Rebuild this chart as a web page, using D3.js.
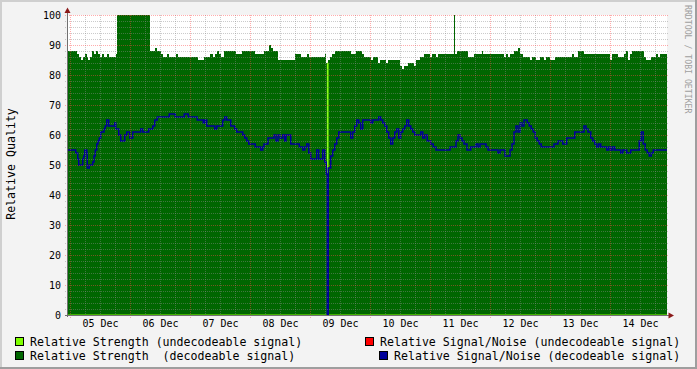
<!DOCTYPE html>
<html>
<head>
<meta charset="utf-8">
<script src="https://cdn.jsdelivr.net/npm/d3@7"></script>
<style>
  body { margin: 0; background: #f3f3f3; }
  text { font-family: "DejaVu Sans Mono", monospace; white-space: pre; }
</style>
</head>
<body>
<svg id="chart" width="697" height="369"></svg>
<script>
// hours counted from 05 Dec 00:00 (UTC), window runs -1.2 .. 238.8
const origin = Date.UTC(2011, 11, 5)
const windowHours = [-1.2, 238.8]
const yTicks = [0, 10, 20, 30, 40, 50, 60, 70, 80, 90, 100]

// step series: [hour, value] change points
const strengthDecodeable = [
  [-1.2, 88], [2.7, 87], [3.5, 86], [4.3, 85], [5.1, 86], [5.9, 87], [6.7, 86], [7.1, 85],
  [7.9, 86], [8.7, 88], [9.5, 87], [10.3, 88], [11.1, 87], [11.9, 86], [12.7, 87], [13.5, 86],
  [14.7, 87], [15.5, 86], [18.3, 87], [18.7, 100], [32.0, 88], [33.9, 89], [34.7, 88],
  [36.3, 87], [37.1, 86], [38.7, 87], [39.5, 86], [42.3, 87], [43.1, 86], [51.1, 85],
  [53.5, 86], [55.9, 87], [57.1, 86], [57.9, 87], [58.7, 88], [59.5, 87], [60.3, 86],
  [61.5, 88], [66.3, 87], [68.7, 88], [73.9, 87], [77.6, 88], [79.6, 90], [80.4, 89],
  [81.2, 88], [83.2, 85], [89.9, 87], [92.3, 86], [94.7, 87], [95.5, 86], [101.9, 87],
  [102.5, 84], [102.9, 0], [103.3, 85], [104.1, 86], [104.9, 87], [105.9, 88], [112.3, 87],
  [114.3, 88], [116.7, 87], [117.5, 86], [120.3, 85], [121.1, 86], [123.1, 84], [123.9, 85],
  [126.3, 84], [127.1, 85], [131.9, 83], [132.7, 82], [133.5, 83], [135.1, 84], [137.5, 83],
  [138.3, 85], [139.9, 86], [141.5, 87], [143.9, 86], [144.7, 87], [146.3, 86], [147.1, 87],
  [153.5, 100], [153.9, 87], [154.7, 88], [159.2, 86], [161.6, 87], [164.8, 88], [165.2, 87],
  [173.6, 86], [174.4, 87], [175.2, 86], [176.0, 87], [177.6, 88], [179.2, 89], [180.0, 87],
  [181.2, 86], [184.0, 85], [184.8, 86], [186.4, 85], [188.0, 86], [189.6, 85], [190.4, 86],
  [192.0, 85], [194.0, 86], [200.8, 87], [201.6, 86], [203.2, 88], [205.6, 87], [216.0, 85],
  [216.8, 87], [219.2, 86], [221.6, 87], [222.4, 88], [223.2, 85], [224.0, 87], [224.8, 88],
  [229.6, 86], [230.4, 85], [232.4, 86], [234.4, 87], [235.2, 86], [236.0, 87]
]
const strengthUndecodeable = [[-1.2, 0], [102.9, 84], [103.3, 0]]

const noiseDecodeable = [
  [-1.2, 55], [2.3, 54], [3.1, 52], [3.5, 50], [5.1, 52], [5.5, 53], [5.9, 55], [6.7, 54],
  [6.9, 49], [7.7, 50], [9.1, 51], [9.6, 53], [10.1, 55], [10.7, 57], [11.2, 58], [11.7, 59],
  [12.3, 61], [13.6, 62], [14.1, 63], [14.7, 65], [15.5, 63], [17.9, 64], [18.3, 62],
  [19.5, 60], [20.3, 58], [21.9, 60], [22.7, 61], [23.9, 59], [25.1, 61], [28.3, 62],
  [29.1, 61], [31.5, 62], [33.1, 63], [33.9, 65], [34.9, 66], [39.7, 67], [42.1, 66],
  [45.7, 67], [47.3, 66], [50.9, 65], [53.3, 64], [53.9, 65], [54.7, 63], [57.9, 62],
  [58.7, 63], [61.1, 65], [61.9, 66], [62.7, 65], [64.3, 63], [65.9, 62], [66.7, 61],
  [69.1, 60], [69.9, 59], [70.7, 58], [71.5, 57], [74.1, 56], [76.3, 55], [77.1, 56],
  [77.6, 57], [79.2, 59], [81.6, 60], [82.4, 58], [83.2, 60], [84.0, 59], [85.1, 60],
  [85.9, 58], [86.4, 60], [88.3, 57], [91.7, 56], [93.1, 55], [93.9, 56], [94.7, 57],
  [95.5, 54], [96.3, 52], [98.7, 55], [99.5, 52], [101.1, 55], [101.9, 51], [102.5, 47],
  [102.9, 0], [103.3, 49], [104.3, 53], [105.1, 55], [105.9, 57], [106.7, 59], [107.5, 61],
  [112.3, 59], [113.1, 61], [113.9, 63], [114.7, 65], [115.5, 64], [116.3, 62], [117.1, 65],
  [120.3, 64], [121.1, 65], [123.5, 66], [124.3, 65], [125.1, 64], [125.9, 63], [126.7, 61],
  [127.5, 59], [128.3, 57], [129.1, 59], [129.9, 61], [130.7, 62], [131.5, 59], [132.3, 61],
  [133.1, 62], [133.9, 63], [134.7, 65], [135.5, 63], [136.3, 62], [137.1, 61], [137.9, 60],
  [140.3, 61], [141.1, 59], [141.9, 60], [142.9, 58], [144.3, 57], [145.3, 56], [146.4, 55],
  [152.0, 56], [154.4, 58], [155.2, 60], [156.0, 59], [156.8, 58], [157.6, 57], [158.8, 55],
  [160.3, 56], [162.4, 57], [163.2, 56], [164.0, 57], [166.4, 56], [167.2, 55], [171.2, 54],
  [172.0, 55], [174.0, 53], [176.0, 55], [176.8, 57], [177.6, 61], [178.4, 63], [179.2, 61],
  [180.0, 64], [180.8, 63], [181.6, 65], [182.9, 64], [183.7, 63], [184.5, 62], [185.3, 61],
  [186.1, 59], [186.9, 58], [187.7, 57], [188.5, 56], [193.6, 57], [195.2, 58], [197.1, 57],
  [198.7, 59], [201.9, 61], [205.6, 63], [206.4, 62], [207.2, 61], [208.3, 59], [209.1, 58],
  [209.9, 57], [210.7, 56], [211.5, 57], [212.3, 56], [214.7, 55], [215.5, 56], [216.3, 55],
  [217.1, 56], [217.9, 55], [220.3, 54], [221.1, 55], [222.7, 54], [224.3, 55], [227.7, 58],
  [228.5, 61], [229.3, 57], [230.1, 55], [230.9, 54], [231.7, 53], [232.5, 54], [233.3, 55]
]
const noiseUndecodeable = []

const legendItems = [
  { label: 'Relative Strength (undecodeable signal)', color: '#7fff00' },
  { label: 'Relative Signal/Noise (undecodeable signal)', color: '#ff0000' },
  { label: 'Relative Strength  (decodeable signal)', color: '#006600' },
  { label: 'Relative Signal/Noise (decodeable signal)', color: '#000099' }
]

const toDate = h => new Date(origin + h * 3600e3)
const withEnd = s => s.length ? s.concat([[windowHours[1], s[s.length - 1][1]]]) : s

const svg = d3.select('#chart')
const W = 697, H = 369
const x = d3.scaleUtc().domain(windowHours.map(toDate)).range([67, 667])
const y = d3.scaleLinear().domain([0, 100]).range([315, 15])

// frame
svg.append('rect').attr('width', W).attr('height', H).attr('fill', '#f3f3f3')
svg.append('path').attr('d', `M0,${H} V0 H${W}`).attr('fill', 'none')
  .attr('stroke', '#cfcfcf').attr('stroke-width', 4)
svg.append('path').attr('d', `M${W},0 V${H} H0`).attr('fill', 'none')
  .attr('stroke', '#9e9e9e').attr('stroke-width', 4)

// canvas
svg.append('rect').attr('x', 67).attr('y', 15).attr('width', 600).attr('height', 300)
  .attr('fill', '#ffffff')

const area = d3.area()
  .x(d => x(toDate(d[0])))
  .y0(y(0))
  .y1(d => y(d[1]))
  .curve(d3.curveStepAfter)
const line = d3.line()
  .x(d => x(toDate(d[0])))
  .y(d => y(d[1]))
  .curve(d3.curveStepAfter)

svg.append('path').datum(withEnd(strengthDecodeable)).attr('d', area)
  .attr('fill', '#006600').attr('shape-rendering', 'crispEdges')
svg.append('path').datum(withEnd(strengthUndecodeable)).attr('d', area)
  .attr('fill', '#7fff00').attr('stroke', '#7fff00').attr('stroke-width', 0.6)
svg.append('path').datum(withEnd(noiseDecodeable)).attr('d', line)
  .attr('fill', 'none').attr('stroke', '#000099').attr('stroke-width', 1.5)
if (noiseUndecodeable.length) {
  svg.append('path').datum(withEnd(noiseUndecodeable)).attr('d', line)
    .attr('fill', 'none').attr('stroke', '#ff0000').attr('stroke-width', 1.5)
}

// grid on top
const grid = svg.append('g').attr('shape-rendering', 'crispEdges')
const minorY = d3.range(0, 101, 2).filter(v => v % 10 !== 0)
grid.selectAll('.gy').data(minorY).join('line')
  .attr('x1', 65).attr('x2', 669)
  .attr('y1', d => Math.round(y(d)) + 0.5).attr('y2', d => Math.round(y(d)) + 0.5)
  .attr('stroke', 'rgba(140,140,140,0.45)').attr('stroke-dasharray', '1,1')
const minorX = d3.utcHour.every(6).range(x.domain()[0], x.domain()[1])
  .filter(d => d.getUTCHours() !== 0)
grid.selectAll('.gx').data(minorX).join('line')
  .attr('y1', 15).attr('y2', 317)
  .attr('x1', d => Math.round(x(d)) + 0.5).attr('x2', d => Math.round(x(d)) + 0.5)
  .attr('stroke', 'rgba(140,140,140,0.45)').attr('stroke-dasharray', '1,1')
grid.selectAll('.my').data(yTicks.filter(v => v > 0)).join('line')
  .attr('x1', 65).attr('x2', 669)
  .attr('y1', d => Math.round(y(d)) + 0.5).attr('y2', d => Math.round(y(d)) + 0.5)
  .attr('stroke', 'rgba(255,70,70,0.45)').attr('stroke-dasharray', '1,1')
const majorX = d3.utcDay.range(x.domain()[0], x.domain()[1])
grid.selectAll('.mx').data(majorX).join('line')
  .attr('y1', 15).attr('y2', 318)
  .attr('x1', d => Math.round(x(d)) + 0.5).attr('x2', d => Math.round(x(d)) + 0.5)
  .attr('stroke', 'rgba(255,70,70,0.45)').attr('stroke-dasharray', '1,1')

// axes
svg.append('line').attr('x1', 67.5).attr('x2', 67.5).attr('y1', 317).attr('y2', 12)
  .attr('stroke', '#707070')
svg.append('line').attr('x1', 65).attr('x2', 670).attr('y1', 315.5).attr('y2', 315.5)
  .attr('stroke', '#707070')
svg.append('path').attr('d', 'M67.5,7.5 L64.5,13 L70.5,13 Z').attr('fill', '#8b1a1a')
svg.append('path').attr('d', 'M674,315.5 L668.5,312.5 L668.5,318.5 Z').attr('fill', '#8b1a1a')

const yAxis = svg.append('g').attr('transform', 'translate(61,0)')
  .call(d3.axisLeft(y).tickValues(yTicks).tickSize(0).tickPadding(0))
yAxis.select('.domain').remove()
yAxis.selectAll('text').attr('font-size', 10).attr('fill', '#000')
  .attr('font-family', '"DejaVu Sans Mono", monospace')

const noons = d3.utcDay.range(x.domain()[0], x.domain()[1]).map(d => d3.utcHour.offset(d, 12))
const xAxis = svg.append('g').attr('transform', 'translate(0,320)')
  .call(d3.axisBottom(x).tickValues(noons).tickSize(0).tickPadding(0)
    .tickFormat(d3.utcFormat('%d %b')))
xAxis.select('.domain').remove()
xAxis.selectAll('text').attr('font-size', 10).attr('fill', '#000').attr('dy', '0.72em')
  .attr('font-family', '"DejaVu Sans Mono", monospace')

// y label
svg.append('text').attr('transform', 'translate(15,164) rotate(-90)')
  .attr('text-anchor', 'middle').attr('font-size', 11.6).attr('fill', '#000')
  .text('Relative Quality')

// watermark
svg.append('text').attr('transform', 'translate(685,5) rotate(90)')
  .attr('font-size', 8.2).attr('fill', '#a0a0a0')
  .text('RRDTOOL / TOBI OETIKER')

// legend
const legendPos = [[15, 337, 30], [365, 337, 380], [15, 351, 30], [379, 351, 394]]
const leg = svg.append('g').selectAll('g').data(legendItems).join('g')
leg.append('rect')
  .attr('x', (d, i) => legendPos[i][0] + 0.5).attr('y', (d, i) => legendPos[i][1] + 0.5)
  .attr('width', 8).attr('height', 8)
  .attr('fill', d => d.color).attr('stroke', '#000').attr('shape-rendering', 'crispEdges')
leg.append('text')
  .attr('x', (d, i) => legendPos[i][2]).attr('y', (d, i) => legendPos[i][1] + 8.5)
  .attr('font-size', 11.6).attr('fill', '#000')
  .text(d => d.label)
</script>
</body>
</html>
